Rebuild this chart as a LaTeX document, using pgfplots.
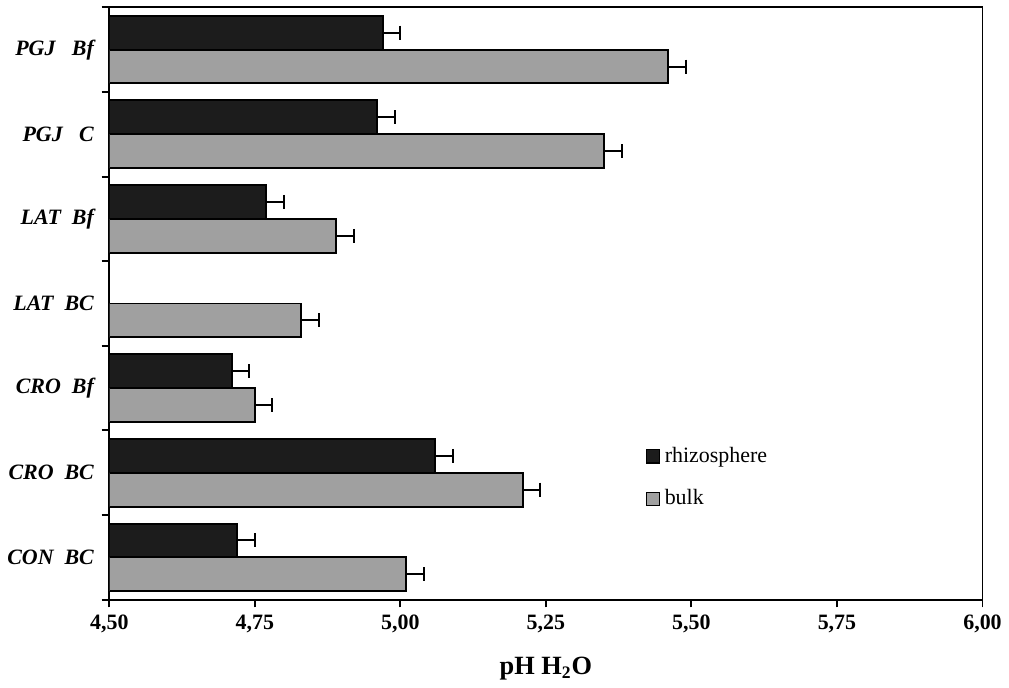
\documentclass[border=0pt]{standalone}
\usepackage{pgfplots}
\pgfplotsset{compat=1.18}
\usepackage{fontspec}
\setmainfont{Liberation Serif}
\definecolor{rhizo}{RGB}{28,28,28}
\definecolor{bulkgray}{RGB}{160,160,160}

\begin{document}
\begin{tikzpicture}
\begin{axis}[
  scale only axis,
  width=398pt, height=270pt,
  xbar, bar width=0.4,
  xmin=4.5, xmax=6.0,
  ymin=-0.5, ymax=6.5,
  xtick={4.5,4.75,...,6.0},
  xticklabel style={font=\bfseries},
  /pgf/number format/.cd, fixed, fixed zerofill, precision=2, use comma, assume math mode=true,
  /pgfplots/.cd,
  ytick={-0.5,0.5,...,6.5}, yticklabels={},
  extra y ticks={0,1,2,3,4,5,6},
  extra y tick labels={{CON\ \ BC},{CRO\ \ BC},{CRO\ \ Bf},{LAT\ \ BC},{LAT\ \ Bf},{PGJ\ \ \ C},{PGJ\ \ \ Bf}},
  extra y tick style={tick style={draw=none}, yticklabel style={font=\bfseries\itshape}},
  tick align=outside, xtick pos=bottom, ytick pos=left,
  major tick length=3.5pt,
  axis line style={line width=0.9pt},
  tick style={line width=0.9pt, black},
  xlabel={\bfseries\large pH H\textsubscript{2}O},
  xlabel style={yshift=-4pt},
  legend style={at={(0.614,0.206)}, anchor=west, draw=none, fill=none, inner xsep=0pt,
    font=\normalsize, row sep=7pt, legend cell align=left},
  legend image code/.code={\draw[#1, line width=0.6pt] (0pt,-3pt) rectangle (6pt,3pt);},
  error bars/error mark=|,
  error bars/error bar style={line width=0.9pt, black},
  error bars/error mark options={line width=0.9pt, mark size=3.2pt, black, rotate=0},
]
\addplot[fill=rhizo, draw=black, line width=0.9pt, bar shift=0.2,
  error bars/.cd, x dir=plus, x explicit]
  coordinates {
    (4.97,6) +- (0.03,0)
    (4.96,5) +- (0.03,0)
    (4.77,4) +- (0.03,0)
    (4.71,2) +- (0.03,0)
    (5.06,1) +- (0.03,0)
    (4.72,0) +- (0.03,0)
  };
\addlegendentry{rhizosphere}
\addplot[fill=bulkgray, draw=black, line width=0.9pt, bar shift=-0.2,
  error bars/.cd, x dir=plus, x explicit]
  coordinates {
    (5.46,6) +- (0.03,0)
    (5.35,5) +- (0.03,0)
    (4.89,4) +- (0.03,0)
    (4.83,3) +- (0.03,0)
    (4.75,2) +- (0.03,0)
    (5.21,1) +- (0.03,0)
    (5.01,0) +- (0.03,0)
  };
\addlegendentry{bulk}
\end{axis}
\end{tikzpicture}
\end{document}
